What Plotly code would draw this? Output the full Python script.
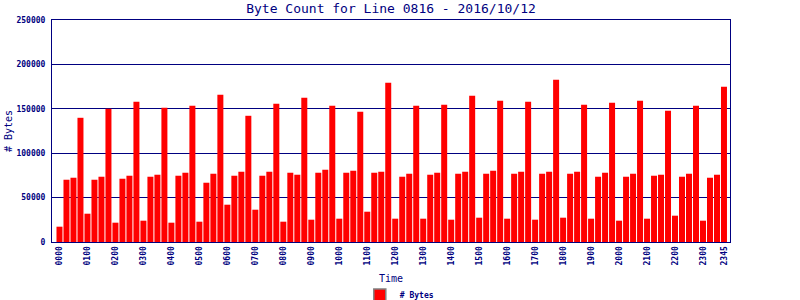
import plotly.graph_objects as go

# 15-minute slots for the day
time_slots = [f"{h:02d}{m:02d}" for h in range(24) for m in (0, 15, 30, 45)]

byte_counts = [
    17250, 70125, 72375, 139875, 31875, 70125, 73500, 150000,
    21750, 71250, 74625, 157875, 24000, 73500, 75750, 151125,
    21750, 74625, 78000, 153375, 22875, 66750, 76875, 165750,
    42000, 74625, 79125, 142125, 36375, 74625, 79125, 155625,
    22875, 78000, 75750, 162375, 25125, 78000, 81375, 153375,
    26250, 78000, 80250, 146625, 34125, 78000, 79125, 179250,
    26250, 73500, 76875, 153375, 26250, 75750, 78000, 154500,
    25125, 76875, 79125, 164625, 27375, 76875, 80250, 159000,
    26250, 76875, 79125, 157875, 25125, 76875, 79125, 182625,
    27375, 76875, 79125, 154500, 26250, 73500, 78000, 156750,
    24000, 73500, 76875, 159000, 26250, 74625, 75750, 147750,
    29625, 73500, 76875, 153375, 24000, 72375, 75750, 174750,
]

tick_labels = ["0000", "0100", "0200", "0300", "0400", "0500", "0600", "0700",
               "0800", "0900", "1000", "1100", "1200", "1300", "1400", "1500",
               "1600", "1700", "1800", "1900", "2000", "2100", "2200", "2300", "2345"]

y_ticks = [0, 50000, 100000, 150000, 200000, 250000]

NAVY = "#000080"
FONT = "DejaVu Sans Mono"

fig = go.Figure()
fig.add_trace(go.Bar(
    x=time_slots, y=byte_counts, name="# Bytes",
    marker=dict(color="#ff0000", line=dict(width=0)),
    showlegend=False,
))
# legend swatch (red with grey border, as in the original)
fig.add_trace(go.Bar(
    x=[None], y=[None], name="# Bytes",
    marker=dict(color="#ff0000", line=dict(color="#808080", width=1.5)),
    showlegend=True,
))

fig.update_layout(
    width=800, height=300,
    margin=dict(l=52, r=70, t=20, b=58, autoexpand=False),
    paper_bgcolor="white", plot_bgcolor="white",
    barmode="overlay", bargap=1/7,
    font=dict(family=FONT, color=NAVY, size=8),
    title=dict(text="Byte Count for Line 0816 - 2016/10/12",
               x=0.5, xref="paper", xanchor="center",
               y=1 - 8/300, yref="container", yanchor="middle",
               font=dict(family=FONT, size=13, color=NAVY)),
    legend=dict(orientation="h", x=0.454, xanchor="left",
                y=(242 - 295) / 222, yanchor="middle",
                font=dict(family=FONT, size=8, color=NAVY, weight="bold"),
                bgcolor="rgba(0,0,0,0)"),
    xaxis=dict(
        type="category", range=[-1.07, 95.86],
        tickmode="array", tickvals=[time_slots[i] for i in range(0, 96, 4)] + ["2345"],
        ticktext=tick_labels, tickangle=-90,
        tickfont=dict(family=FONT, size=8, color=NAVY, weight="bold"),
        ticks="", showgrid=False, zeroline=False,
        showline=True, linecolor=NAVY, linewidth=1, mirror=True,
        automargin=False,
        title=dict(text="Time", standoff=10, font=dict(family=FONT, size=10, color=NAVY)),
    ),
    yaxis=dict(
        range=[0, 250000], tickmode="array", tickvals=y_ticks,
        ticktext=[str(v) for v in y_ticks],
        tickfont=dict(family=FONT, size=8, color=NAVY, weight="bold"),
        ticks="", ticklabelstandoff=4,
        showgrid=True, gridcolor=NAVY, gridwidth=1, zeroline=False,
        showline=True, linecolor=NAVY, linewidth=1, mirror=True,
        automargin=False,
        title=dict(text="# Bytes", standoff=1, font=dict(family=FONT, size=10, color=NAVY)),
    ),
)

fig.write_html("out.html")
